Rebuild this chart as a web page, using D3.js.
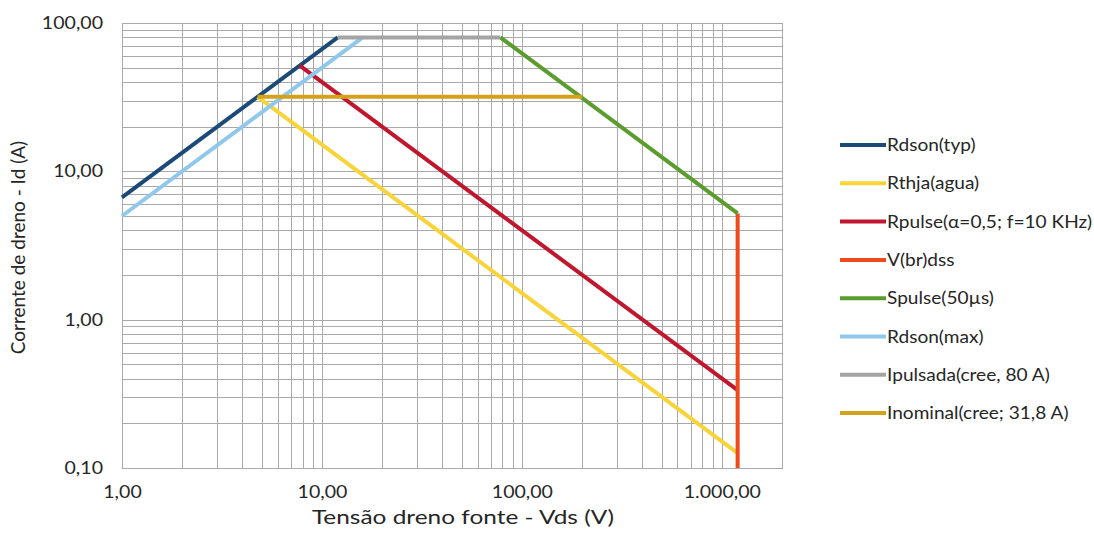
<!DOCTYPE html>
<html>
<head>
<meta charset="utf-8">
<script src="https://cdn.jsdelivr.net/npm/d3@7"></script>
<style>
  html, body { margin: 0; padding: 0; background: #ffffff; }
  svg { display: block; }
  text { font-family: Lato, "Open Sans", sans-serif; fill: #262626; }
</style>
</head>
<body>
<svg id="chart" width="1094" height="540"></svg>
<script>
// Safe operating area of the MOSFET: drain current vs drain-source voltage (log-log)
const seriesNames = [
  "Rdson(typ)", "Rthja(agua)", "Rpulse(\u03b1=0,5; f=10 KHz)", "V(br)dss",
  "Spulse(50\u00b5s)", "Rdson(max)", "Ipulsada(cree, 80 A)", "Inominal(cree; 31,8 A)"
];
const seriesColors = [
  "#1c4a78", "#f8d43a", "#c0162e", "#ee4a1e",
  "#5a9c2e", "#90c8ec", "#a4a4a4", "#d4a21a"
];

// Each series as [Vds, Id] points
const rdsonTyp   = [[1, 6.67], [12, 80]];
const rthjaAgua  = [[4.77, 31.8], [1200, 0.126]];
const rpulse     = [[7.75, 51.6], [1200, 0.335]];
const vbrdss     = [[1200, 0.1], [1200, 5.2]];
const spulse     = [[78, 80], [1200, 5.2]];
const rdsonMax   = [[1, 5], [16, 80]];
const ipulsada   = [[12, 80], [78, 80]];
const inominal   = [[4.77, 31.8], [200, 31.8]];

const seriesData = [rdsonTyp, rthjaAgua, rpulse, vbrdss, spulse, rdsonMax, ipulsada, inominal];

const xTickValues = [1, 10, 100, 1000];
const yTickValues = [0.1, 1, 10, 100];
const xTitle = "Tens\u00e3o dreno fonte - Vds (V)";
const yTitle = "Corrente de dreno - Id (A)";

const svg = d3.select("#chart");
const plot = { left: 122, right: 782, top: 23, bottom: 468 };

const x = d3.scaleLog().domain([1, 2000]).range([plot.left, plot.right]);
const y = d3.scaleLog().domain([0.1, 100]).range([plot.bottom, plot.top]);

const ptBR = d3.formatLocale({ decimal: ",", thousands: ".", grouping: [3], currency: ["", ""] });
const fmt = ptBR.format(",.2f");

// Widen text horizontally (the typeface is set a little wide)
function widen(sel, factor) {
  sel.each(function () {
    const len = this.getComputedTextLength();
    d3.select(this).attr("textLength", len * factor).attr("lengthAdjust", "spacingAndGlyphs");
  });
}

// Gridlines at 1..9 x 10^k
const gridX = [];
for (let e = 0; e <= 3; e++) for (let m = 1; m <= 9; m++) {
  const v = m * Math.pow(10, e);
  if (v <= 2000) gridX.push(v);
}
const gridY = [];
for (let e = -1; e <= 2; e++) for (let m = 1; m <= 9; m++) {
  const v = m * Math.pow(10, e);
  if (v <= 100) gridY.push(v);
}

const grid = svg.append("g").attr("stroke", "#a9a9a9").attr("stroke-width", 1);
grid.selectAll("line.gx").data(gridX).join("line")
  .attr("x1", d => Math.round(x(d)) + 0.5).attr("x2", d => Math.round(x(d)) + 0.5)
  .attr("y1", plot.top).attr("y2", plot.bottom);
grid.selectAll("line.gy").data(gridY).join("line")
  .attr("y1", d => Math.round(y(d)) + 0.5).attr("y2", d => Math.round(y(d)) + 0.5)
  .attr("x1", plot.left).attr("x2", plot.right);
svg.append("rect")
  .attr("x", plot.left + 0.5).attr("y", plot.top + 0.5)
  .attr("width", plot.right - plot.left).attr("height", plot.bottom - plot.top)
  .attr("fill", "none").attr("stroke", "#a9a9a9");

// Axes (labels only, the frame is drawn by the grid)
const xAxis = d3.axisBottom(x).tickValues(xTickValues).tickFormat(fmt).tickSize(0).tickPadding(18);
const yAxis = d3.axisLeft(y).tickValues(yTickValues).tickFormat(fmt).tickSize(0).tickPadding(19);

const gx = svg.append("g").attr("transform", `translate(0,${plot.bottom})`).call(xAxis);
const gy = svg.append("g").attr("transform", `translate(${plot.left},0)`).call(yAxis);
[gx, gy].forEach(g => {
  g.select(".domain").remove();
  g.selectAll("text").style("font-size", "17px").style("font-family", "Lato, sans-serif").attr("fill", "#262626");
  widen(g.selectAll("text"), 1.15);
});

// Series lines
const line = d3.line().x(d => x(d[0])).y(d => y(d[1]));
svg.append("g").selectAll("path").data(seriesData).join("path")
  .attr("d", line)
  .attr("fill", "none")
  .attr("stroke", (d, i) => seriesColors[i])
  .attr("stroke-width", 4)
  .attr("stroke-linecap", "butt")
  .attr("stroke-linejoin", "round");

// Axis titles
const xt = svg.append("text")
  .attr("x", 463).attr("y", 524)
  .attr("text-anchor", "middle").style("font-size", "20px")
  .text(xTitle);
widen(xt, 1.22);
svg.append("text")
  .attr("transform", `translate(25,${(plot.top + plot.bottom) / 2 + 2}) rotate(-90)`)
  .attr("text-anchor", "middle").style("font-size", "19px")
  .text(yTitle);

// Legend
const legend = svg.append("g").attr("transform", "translate(840,145)");
const rows = legend.selectAll("g").data(seriesNames).join("g")
  .attr("transform", (d, i) => `translate(0,${i * 38.3})`);
rows.append("line")
  .attr("x1", 0).attr("x2", 46).attr("y1", 0).attr("y2", 0)
  .attr("stroke", (d, i) => seriesColors[i]).attr("stroke-width", 4);
const legendText = rows.append("text")
  .attr("x", 47).attr("y", 0).attr("dy", "0.35em")
  .style("font-size", "17.5px")
  .text(d => d);
widen(legendText, 1.09);
</script>
</body>
</html>
